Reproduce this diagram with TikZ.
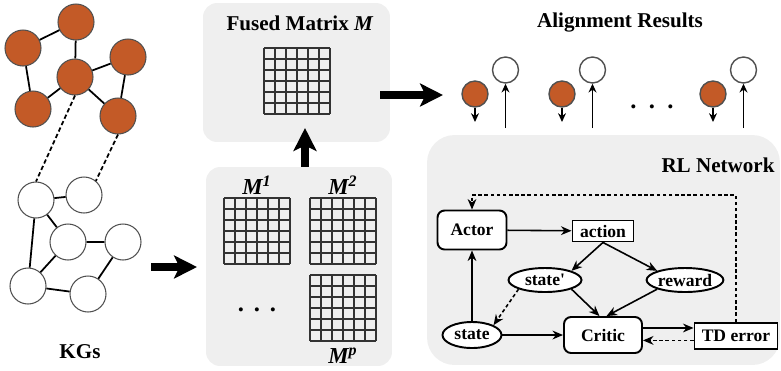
\documentclass[tikz,border=0pt]{standalone}
\usepackage{fontspec}
\setmainfont{Liberation Serif}
\usetikzlibrary{arrows.meta,shapes.geometric,positioning}
\definecolor{kgorange}{HTML}{C35A27}
\definecolor{panelgray}{HTML}{EFEFEF}
\definecolor{ringgray}{HTML}{505050}

\begin{document}
\begin{tikzpicture}[x=0.02cm, y=-0.02cm,
	ent/.style={shape=circle, draw=ringgray, line width=0.6pt, minimum size=0.72cm, inner sep=0pt},
	src/.style={ent, fill=kgorange},
	tgt/.style={ent, fill=white},
	rel/.style={line width=1pt},
	panel/.style={fill=panelgray, rounded corners=0.28cm, inner sep=0pt},
	bigarrow/.style={line width=5pt, -{Stealth[length=13pt, width=13pt, inset=3pt]}},
	title/.style={font=\fontsize{12}{14}\selectfont\bfseries},
	mlab/.style={font=\fontsize{13}{15}\selectfont\bfseries\itshape},
	dots/.style={font=\fontsize{14}{16}\selectfont\bfseries, inner sep=0pt},
	rlbox/.style={draw, fill=white, line width=1.1pt, inner sep=0pt, font=\fontsize{10}{12}\selectfont\bfseries},
	flow/.style={line width=0.9pt, -{Stealth[length=6pt, width=5pt]}},
	back/.style={flow, dash pattern=on 2pt off 1.5pt},
	pin/.style={line width=0.8pt, -{Stealth[length=5pt, width=4.5pt]}},
	mat/.pic={
		\foreach \k in {0,...,6} {
			\draw[line width=0.65pt, black!80] (1+\k*11,1) -- (1+\k*11,67);
			\draw[line width=0.65pt, black!80] (1,1+\k*11) -- (67,1+\k*11);
		}
	}]
	\useasboundingbox (0,0) rectangle (781,370);

	% Panels
	\node[panel, minimum width=3.74cm, minimum height=2.78cm] (Fus) at (296.5,72.5) {};
	\node[panel, minimum width=3.72cm, minimum height=3.98cm] (Mats) at (299,266.5) {};
	\node[panel, minimum width=7.06cm, minimum height=4.6cm, rounded corners=0.55cm] (RLp) at (603.5,250) {};

	% Knowledge graphs
	\node[src] (O1) at (76,22) {};
	\node[src] (O2) at (23,48) {};
	\node[src] (O3) at (75,77) {};
	\node[src] (O4) at (128,57) {};
	\node[src] (O5) at (33,109) {};
	\node[src] (O6) at (118,116) {};
	\node[tgt] (W1) at (36,200) {};
	\node[tgt] (W2) at (84,195) {};
	\node[tgt] (W3) at (68,242) {};
	\node[tgt] (W4) at (123,242) {};
	\node[tgt] (W5) at (28,286) {};
	\node[tgt] (W6) at (88,294) {};
	\draw[rel] (O1) -- (O2) (O1) -- (O3) (O2) -- (O5) (O3) -- (O5)
		(O3) -- (O4) (O3) -- (O6) (O4) -- (O6);
	\draw[rel] (W1) -- (W2) (W1) -- (W3) (W1) -- (W5) (W3) -- (W4)
		(W3) -- (W5) (W5) -- (W6) (W6) -- (W4);
	%% Seed links
	\draw[rel, dash pattern=on 2.5pt off 1.5pt] (O3.south) -- (W1.north) (O6.south) -- (W2.50);
	\node[title] (KGs) at (80,352) {KGs};

	% Similarity matrices
	\node[title] (FusT) at (300,23) {Fused Matrix \textit{M}};
	\pic at (263,47) {mat};
	\node[mlab] (M1) at (257,185) {M\textsuperscript{1}};
	\node[mlab] (M2) at (343,185) {M\textsuperscript{2}};
	\node[mlab] (Mp) at (343,356) {M\textsuperscript{p}};
	\pic at (223,197) {mat};
	\pic at (309,197) {mat};
	\pic at (309,274) {mat};
	\node[dots] (DotsM) at (257,310) {.\hspace{0.4em}.\hspace{0.4em}.};

	% Alignment results
	\node[title] (AliT) at (620,23) {Alignment Results};
	\foreach \x/\i in {475/1,562/2,713/3} {
		\node[src, line width=0.8pt, minimum size=0.52cm] (S\i) at (\x,94) {};
		\node[tgt, line width=0.8pt, minimum size=0.52cm] (T\i) at (\x+30.5,70) {};
		\coordinate (Sd\i) at (\x,122);
		\coordinate (Tu\i) at (\x+30.5,128);
		\draw[pin] (S\i) -- (Sd\i);
		\draw[pin] (Tu\i) -- (T\i);
	}
	\node[dots] (DotsA) at (652,107) {.\hspace{0.5em}.\hspace{0.5em}.};

	% Big arrows
	\coordinate (KGo) at (151,267);
	\coordinate (Min) at (197,267);
	\coordinate (Fup) at (305,128);
	\coordinate (Fo) at (380,95);
	\coordinate (Ain) at (443,95);
	\draw[bigarrow] (KGo) -- (Min);
	\draw[bigarrow] (Mats.north -| Fup) -- (Fup);
	\draw[bigarrow] (Fo) -- (Ain);

	% RL network
	\node[title] (RLT) at (718,165) {RL Network};
	\node[rlbox, rounded corners=4pt, minimum width=1.38cm, minimum height=0.78cm] (Act) at (472,230) {Actor};
	\node[rlbox, minimum width=1.22cm, minimum height=0.42cm] (Acn) at (603,231) {action};
	\node[rlbox, ellipse, minimum width=1.46cm, minimum height=0.48cm] (Stp) at (545,280) {state\textquotesingle};
	\node[rlbox, ellipse, minimum width=1.52cm, minimum height=0.48cm] (Rew) at (685,280) {reward};
	\node[rlbox, ellipse, minimum width=1.18cm, minimum height=0.52cm] (Sta) at (472,335) {state};
	\node[rlbox, rounded corners=4pt, minimum width=1.56cm, minimum height=0.72cm] (Cri) at (603,335) {Critic};
	\node[rlbox, minimum width=1.66cm, minimum height=0.52cm] (TDe) at (736,336) {TD error};
	%% Forward
	\draw[flow] (Act) -- (Acn);
	\draw[flow] (Acn.south) -- (Stp.north east);
	\draw[flow] (Acn.south) -- (Rew.north west);
	\draw[flow] (Stp.south east) -- ([xshift=-2pt]Cri.north);
	\draw[flow] (Rew.south west) -- ([xshift=2pt]Cri.north);
	\draw[flow] (Sta) -- (Act);
	\draw[flow] (Sta) -- (Cri);
	\draw[flow] ([yshift=4pt]Cri.east) -- ([yshift=4pt]Cri.east -| TDe.west);
	%% Feedback
	\draw[back] ([yshift=-2.5pt]TDe.west) -- ([yshift=-2.5pt]TDe.west -| Cri.east);
	\draw[back] (Stp.south west) -- (Sta.north east);
	\coordinate (Fb) at (600,195);
	\draw[back] (TDe.north) |- (Fb) -| (Act.north);
\end{tikzpicture}
\end{document}
